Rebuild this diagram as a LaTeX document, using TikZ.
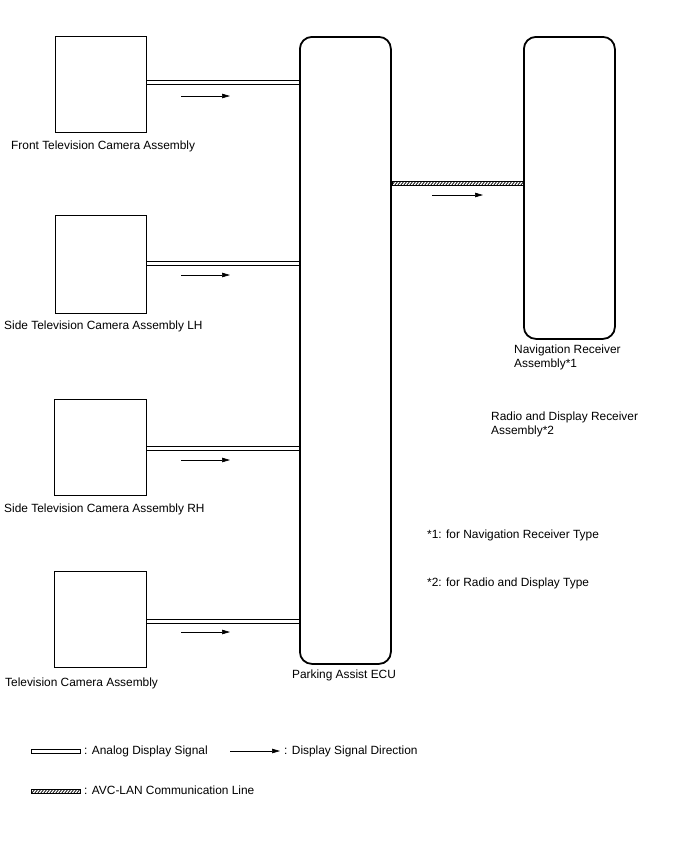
\documentclass[tikz,border=0pt]{standalone}
\usepackage{fontspec}
\setmainfont{Liberation Sans}
\usetikzlibrary{arrows.meta}
\begin{document}
\begin{tikzpicture}[x=1pt,y=-1pt,
  every node/.style={font=\fontsize{11.9}{14}\selectfont, inner sep=0pt},
  cambox/.style={draw, line width=1.2pt},
  ecubox/.style={draw, line width=1.8pt, rounded corners=12pt},
  lbl/.style={anchor=west, align=left},
  sline/.style={line width=0.9pt},
  dirarrow/.style={-{Triangle[length=8pt,width=4.5pt]}, line width=0.7pt}
]
\useasboundingbox (0,0) rectangle (688,852);
% camera boxes
\node[cambox, minimum width=91pt, minimum height=96pt, anchor=north west] (fc) at (55,36) {};
\node[cambox, minimum width=91pt, minimum height=98pt, anchor=north west] (lh) at (55,215) {};
\node[cambox, minimum width=92pt, minimum height=96pt, anchor=north west] (rh) at (54,399) {};
\node[cambox, minimum width=92pt, minimum height=96pt, anchor=north west] (tv) at (54,571) {};
% ECU and nav
\node[ecubox, minimum width=91pt, minimum height=627pt, anchor=north west] (ecu) at (299,36) {};
\node[ecubox, minimum width=91pt, minimum height=302pt, anchor=north west] (nav) at (523,36) {};
% labels
\node[lbl] (fcl) at (11,146) {Front Television Camera Assembly};
\node[lbl] (lhl) at (4,326) {Side Television Camera Assembly LH};
\node[lbl] (rhl) at (4,509) {Side Television Camera Assembly RH};
\node[lbl] (tvl) at (5,683) {Television Camera Assembly};
\node (ecul) at (344,675) {Parking Assist ECU};
\node[lbl, anchor=north west] (navl) at (514,345) {Navigation Receiver\\Assembly*1};
\node[lbl, anchor=north west] (radl) at (491,412) {Radio and Display Receiver\\Assembly*2};
\node[lbl] (n1) at (427,535) {*1: for Navigation Receiver Type};
\node[lbl] (n2) at (427,583) {*2: for Radio and Display Type};
% analog signal lines (pairs)
\foreach \src/\y in {fc/82.5, lh/263.5, rh/448, tv/621}{
  \draw[sline] (\src.east |- 0,\y-2) -- (ecu.west |- 0,\y-2);
  \draw[sline] (\src.east |- 0,\y+2) -- (ecu.west |- 0,\y+2);
}
\coordinate (a1s) at (181,96); \coordinate (a1e) at (230,96);
\coordinate (a2s) at (181,275); \coordinate (a2e) at (230,275);
\coordinate (a3s) at (181,460); \coordinate (a3e) at (230,460);
\coordinate (a4s) at (181,632); \coordinate (a4e) at (230,632);
\coordinate (a5s) at (432,195); \coordinate (a5e) at (483,195);
\draw[dirarrow] (a1s) -- (a1e);
\draw[dirarrow] (a2s) -- (a2e);
\draw[dirarrow] (a3s) -- (a3e);
\draw[dirarrow] (a4s) -- (a4e);
\draw[dirarrow] (a5s) -- (a5e);
% hatched AVC-LAN
\coordinate (h1) at (ecu.east |- 0,181);
\coordinate (h2) at (nav.west |- 0,185.5);
\begin{scope}
\clip (h1) rectangle (h2);
\foreach \i in {388,391,...,530} \draw[line width=0.7pt] (\i,186) -- (\i+5,180);
\end{scope}
\draw[line width=0.6pt] (h1) rectangle (h2);
% legend
\coordinate (lg1a) at (31,749); \coordinate (lg1b) at (80,753);
\draw[line width=0.8pt] (lg1a) rectangle (lg1b);
\node[lbl] (lg1) at (84,751) {: Analog Display Signal};
\coordinate (lg2a) at (230,751); \coordinate (lg2b) at (280,751);
\draw[dirarrow] (lg2a) -- (lg2b);
\node[lbl] (lg2) at (284,751) {: Display Signal Direction};
\coordinate (lg3a) at (31,789); \coordinate (lg3b) at (80,793);
\begin{scope}
\clip (lg3a) rectangle (lg3b);
\foreach \i in {28,31,...,82} \draw[line width=0.7pt] (\i,794) -- (\i+5,788);
\end{scope}
\draw[line width=0.6pt] (lg3a) rectangle (lg3b);
\node[lbl] (lg3) at (84,790) {: AVC-LAN Communication Line};
\end{tikzpicture}
\end{document}
